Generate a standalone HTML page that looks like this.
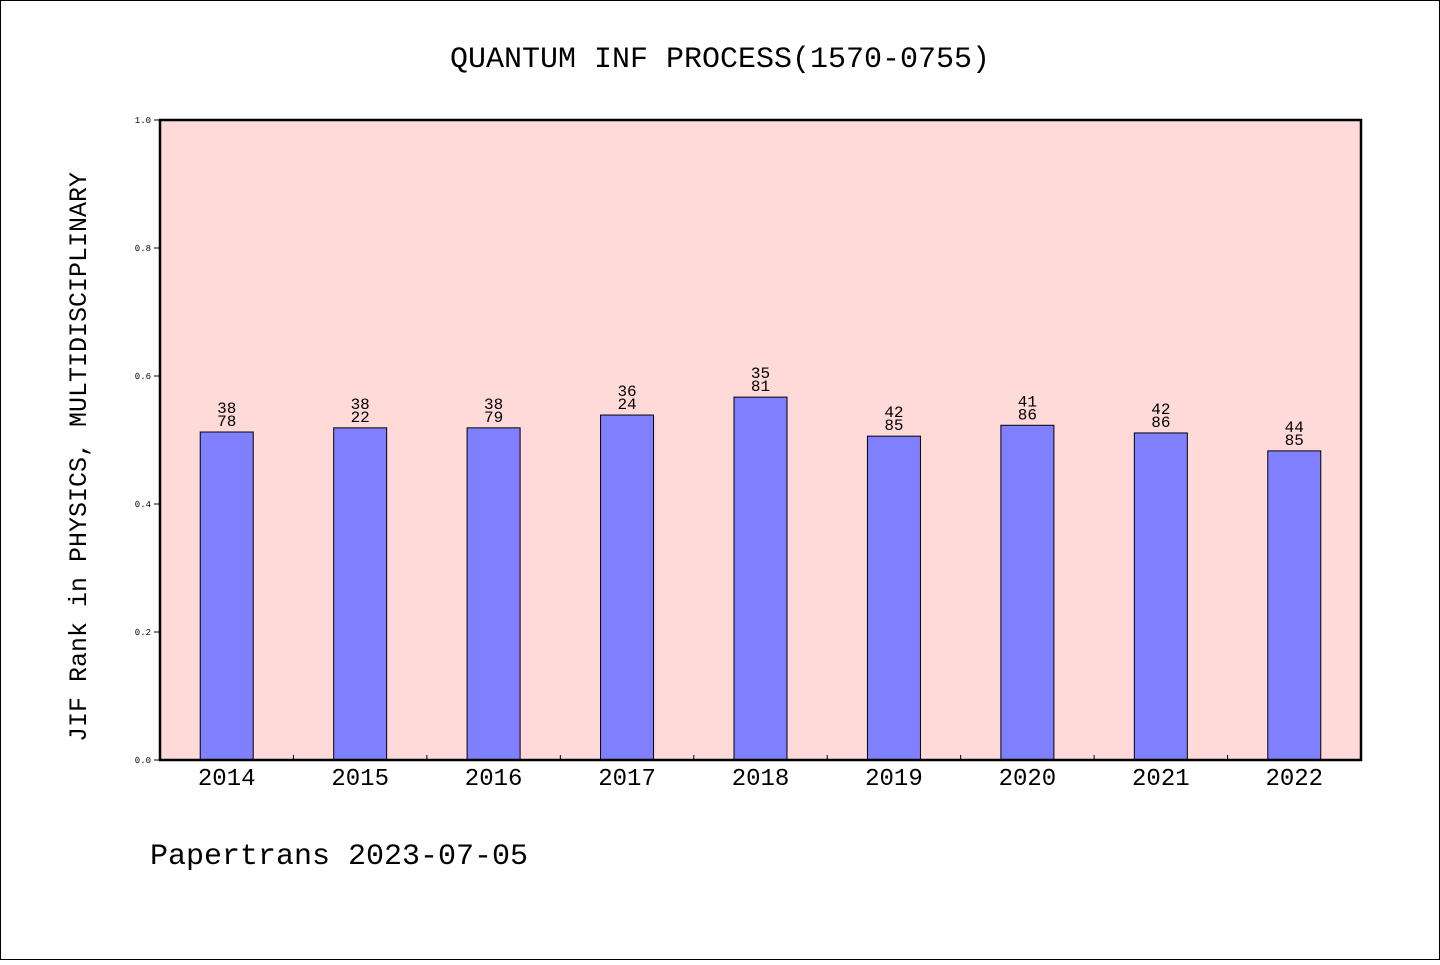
<!DOCTYPE html>
<html><head><meta charset="utf-8"><style>
html,body{margin:0;padding:0;background:#fff}
svg text{font-family:"WenQuanYi Zen Hei","Liberation Mono",monospace}
</style></head><body>
<svg id="chart" width="1440" height="960" xmlns="http://www.w3.org/2000/svg">
<rect x="0.5" y="0.5" width="1439" height="959" fill="#fff" stroke="#000"/>
<text x="720" y="67" font-size="30" text-anchor="middle">QUANTUM INF PROCESS(1570-0755)</text>
<rect x="160" y="120" width="1201" height="640" fill="#ffdad8"/>
<g id="bars"></g>
<g id="axes"></g>
<rect x="160" y="120" width="1201" height="640" fill="none" stroke="#000" stroke-width="2.5"/>
<text transform="translate(86,457) rotate(-90)" font-size="25" text-anchor="middle">JIF Rank in PHYSICS, MULTIDISCIPLINARY</text>
<text x="150" y="864" font-size="30">Papertrans 2023-07-05</text>
</svg>
<script>
const categories=["2014","2015","2016","2017","2018","2019","2020","2021","2022"];
const values=[0.5125,0.519,0.519,0.539,0.567,0.506,0.523,0.511,0.483];
const rankTop=["38","38","38","36","35","42","41","42","44"];
const rankBottom=["78","22","79","24","81","85","86","86","85"];
const yTicks=[0,0.2,0.4,0.6,0.8,1.0];
const NS="http://www.w3.org/2000/svg";
const X0=160,X1=1361,Y0=760,Y1=120;
const slot=(X1-X0)/categories.length;
const xc=i=>X0+slot*(i+0.5);
const y=v=>Y0-(Y0-Y1)*v;
function mk(tag,attrs,parent){const e=document.createElementNS(NS,tag);for(const k in attrs)e.setAttribute(k,attrs[k]);parent.appendChild(e);return e;}
const bars=document.getElementById('bars'),axes=document.getElementById('axes');
categories.forEach((c,i)=>{
  const top=y(values[i]);
  const r=mk('rect',{x:xc(i)-26.5,y:top,width:53,height:Y0-top,fill:'#8080ff',stroke:'#000','stroke-width':1},bars);
  
  
  const t1=mk('text',{x:xc(i),y:top-19,'font-size':16,'text-anchor':'middle'},bars);t1.textContent=rankTop[i];
  
  
  const t2=mk('text',{x:xc(i),y:top-6,'font-size':16,'text-anchor':'middle'},bars);t2.textContent=rankBottom[i];
  
  
  const xl=mk('text',{x:xc(i),y:785,'font-size':24,'text-anchor':'middle'},axes);xl.textContent=c;
  
  
  if(i>0){const tk=mk('line',{x1:X0+slot*i,x2:X0+slot*i,y1:Y0,y2:Y0-5,stroke:'#000'},axes);
  
  }
});
yTicks.forEach(v=>{
  const tk=mk('line',{x1:X0-6,x2:X0,y1:y(v),y2:y(v),stroke:'#000'},axes);
  
  
  const t=mk('text',{x:X0-9,y:y(v)+3,'font-size':9,'text-anchor':'end'},axes);t.textContent=v.toFixed(1);
  
  
});
</script>
</body></html>
